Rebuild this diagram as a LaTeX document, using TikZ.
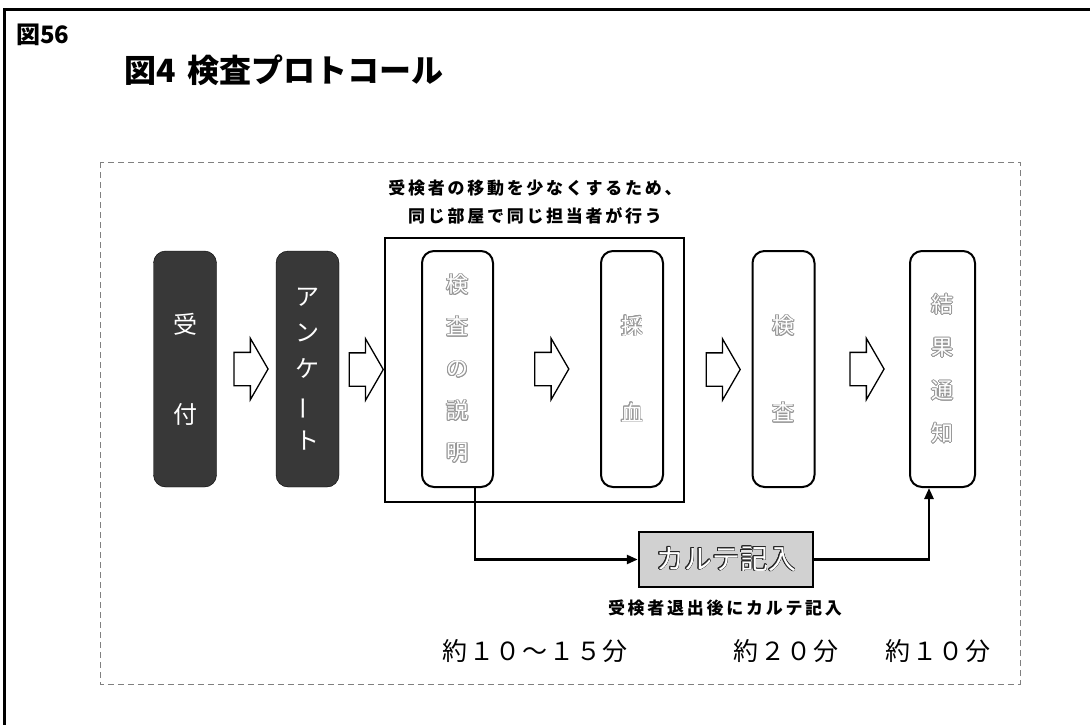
\documentclass[tikz,border=0pt]{standalone}
\usepackage{fontspec}
\usepackage{contour}
\usetikzlibrary{shapes.arrows,calc,arrows.meta}
\newfontfamily\jp{Noto Sans CJK JP}
\newfontfamily\jpsp[LetterSpace=16]{Noto Sans CJK JP}
\newfontfamily\jptime[LetterSpace=7]{Noto Sans CJK JP}
\contourlength{0.6pt}
\newcommand{\hollow}[2][black!40]{\contour{#1}{\textcolor{white}{#2}}}
\begin{document}
\begin{tikzpicture}[x=1pt,y=-1pt,>={Triangle[length=11pt,width=9pt]},
    darkbox/.style={draw=black,fill=black!78,rounded corners=12pt,minimum width=63,minimum height=236,text=white,align=center,inner sep=0pt},
    whitebox/.style={draw=black,line width=2pt,fill=white,rounded corners=12pt,minimum width=62,minimum height=236,align=center,inner sep=0pt},
    hollowarrow/.style={single arrow,draw=black,line width=1.3pt,fill=white,minimum height=34,single arrow head extend=14,single arrow tip angle=120,inner sep=0pt}]
    \useasboundingbox (0,0) rectangle (1090,725);
    \draw[line width=3pt] (4,725) -- (4,10) -- (1090,10);
    \node (fig) [anchor=west,inner sep=0pt,font=\jp\bfseries\fontsize{24}{24}\selectfont] at (16,35) {図56};
    \node (title) [anchor=west,inner sep=0pt,font=\jp\bfseries\fontsize{32}{32}\selectfont] at (124,70) {図4\hspace{12pt}検査プロトコール};
    \draw[gray,dash pattern=on 6pt off 4pt] (100,162) rectangle (1020,684);
    \node (note) [align=center,font=\jpsp\bfseries\fontsize{17}{28}\selectfont] at (535,202) {受検者の移動を少なくするため、\\同じ部屋で同じ担当者が行う};
    \node (room) [draw,line width=2.5pt,minimum width=299,minimum height=264] at (534.5,370) {};
    \node (uketsuke) [darkbox,font=\jp\fontsize{24}{90}\selectfont] at (185,369) {受\\付};
    \node (enquete) [darkbox,font=\jp\fontsize{24}{36}\selectfont] at (307.5,369) {ア\\ン\\ケ\\\rotatebox[origin=c]{90}{ー}\\ト};
    \node (setsumei) [whitebox,minimum width=71,font=\jp\fontsize{22}{42}\selectfont] at (457.5,369) {\hollow{検}\\\hollow{査}\\\hollow{の}\\\hollow{説}\\\hollow{明}};
    \node (saiketsu) [whitebox,font=\jp\fontsize{22}{87}\selectfont] at (632,369) {\hollow{採}\\\hollow{血}};
    \node (kensa) [whitebox,font=\jp\fontsize{22}{87}\selectfont] at (783.5,369) {\hollow{検}\\\hollow{査}};
    \node (tsuchi) [whitebox,minimum width=65,font=\jp\fontsize{22}{43}\selectfont] at (942.5,369) {\hollow{結}\\\hollow{果}\\\hollow{通}\\\hollow{知}};
    \node (arr1) [hollowarrow] at ($(uketsuke.east)!.5!(enquete.west)$) {\rule{0pt}{32pt}};
    \node (arr2) [hollowarrow] at ($(enquete.east)!.5!(room.west)$) {\rule{0pt}{32pt}};
    \node (arr3) [hollowarrow] at ($(setsumei.east)!.5!(saiketsu.west)$) {\rule{0pt}{32pt}};
    \node (arr4) [hollowarrow] at ($(room.east)!.5!(kensa.west)$) {\rule{0pt}{32pt}};
    \node (arr5) [hollowarrow] at ($(kensa.east)!.5!(tsuchi.west)$) {\rule{0pt}{32pt}};
    \node (karte) [draw,line width=2.5pt,fill=black!18,minimum width=174,minimum height=55,font=\jp\fontsize{28}{28}\selectfont] at (726,559.5) {\hollow[black!85]{カルテ記入}};
    \draw[->,line width=2.5pt] ([xshift=17.5pt]setsumei.south) |- (karte.west);
    \draw[->,line width=2.5pt] (karte.east) -| ([xshift=-13.5pt]tsuchi.south);
    \node (after) [font=\jpsp\bfseries\fontsize{17}{17}\selectfont] at (725,608) {受検者退出後にカルテ記入};
    \node (t1) [font=\jptime\fontsize{25}{25}\selectfont] at (535,651) {約１０～１５分};
    \node (t2) [font=\jptime\fontsize{25}{25}\selectfont] at (786,651) {約２０分};
    \node (t3) [font=\jptime\fontsize{25}{25}\selectfont] at (938,651) {約１０分};
\end{tikzpicture}
\end{document}
